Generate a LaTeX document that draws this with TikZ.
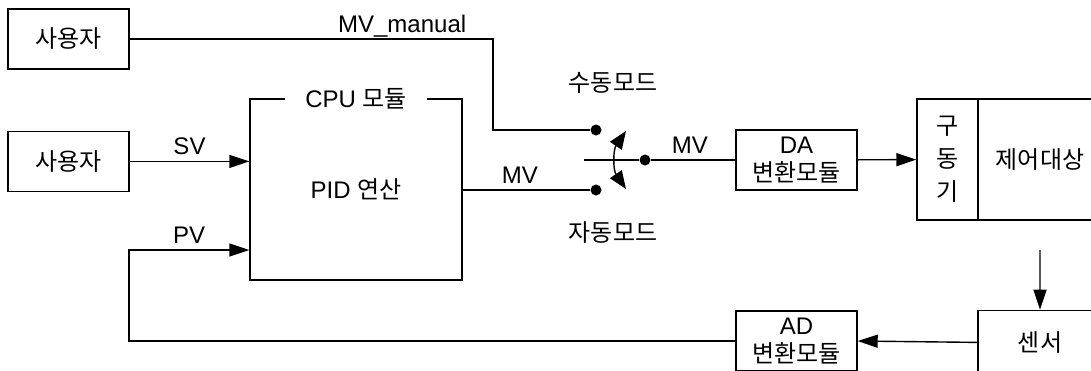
\documentclass[tikz,border=0pt]{standalone}
\usepackage{fontspec}
\setmainfont{Liberation Sans}
\newfontfamily\korfont{Noto Sans CJK KR}
\newcommand{\hangul}[1]{{\korfont #1}}
\usetikzlibrary{arrows.meta,positioning}

\begin{document}
\begin{tikzpicture}[
  x=0.5pt, y=-0.5pt,
  font=\fontsize{12}{14}\selectfont,
  line width=0.7pt,
  blk/.style={draw, align=center, inner sep=2pt},
  kor/.style={font=\fontsize{12}{16.5}\selectfont\korfont},
  arr/.style={-{Triangle[length=10pt, width=6.5pt]}},
  lbl/.style={above, inner sep=3pt, text depth=0pt},
  dot/.style={circle, fill, inner sep=0pt, minimum size=5.5pt},
]
\useasboundingbox (0,0) rectangle (1091,370);
% left side
\node[blk, kor, minimum width=60.5pt, minimum height=30pt] (user1) at (68.5,39) {사용자};
\node[blk, kor, minimum width=60.5pt, minimum height=30pt, below=30.5pt of user1] (user2) {사용자};
\node[blk, minimum width=106pt, minimum height=90.5pt] (cpu) at (356,189.5) {PID \hangul{연산}};
\node[fill=white, inner xsep=10pt, inner ysep=2pt] (cpulbl) at (cpu.north) {CPU \hangul{모듈}};
% switch
\node[dot] (dman) at (596,130) {};
\node[dot] (dauto) at (596,190) {};
\node[dot] (dout) at (645,160) {};
\coordinate (swin) at (584,160);
\coordinate (swtop) at (626,131);
\coordinate (swbot) at (626,189);
\node[kor] (manlbl) at (613,83) {수동모드};
\node[kor] (autolbl) at (613,233) {자동모드};
% right side
\node[blk, minimum width=60.5pt, minimum height=30pt] (da) at (796.5,160) {DA\\\hangul{변환모듈}};
\node[blk, kor, minimum width=30.5pt, minimum height=60.5pt] (drv) at (947.5,159.5) {구\\동\\기};
\node[blk, kor, minimum width=62pt, minimum height=60.5pt, right=-0.7pt of drv] (plant) {제어대상};
\node[blk, kor, minimum width=62pt, minimum height=32pt, below=44.5pt of plant] (sensor) {센서};
\node[blk, minimum width=60.5pt, minimum height=30pt] (ad) at (796.5,341) {AD\\\hangul{변환모듈}};
\coordinate (mbend) at (493,130);
\coordinate (fbend) at (129,250);
\coordinate (pout) at (1040,250);

\draw (user1.east) -| node[lbl, pos=0.375] {MV\_manual} (mbend) -- (dman);
\draw[arr] (user2) -- node[lbl] {SV} (cpu.west |- user2);
\draw[arr] (ad.west) -| (fbend) -- node[lbl] {PV} (fbend -| cpu.west);
\draw (cpu.east |- dauto) -- node[lbl, pos=0.45] {MV} (dauto);
\draw (swin) -- (dout) -- node[lbl, pos=0.46] {MV} (da.west);
\draw[{Triangle[length=9pt, width=7pt]}-{Triangle[length=9pt, width=7pt]}] (swtop) .. controls (613,150) and (613,170) .. (swbot);
\draw[arr] (da) -- (drv);
\draw[arr] (pout) -- (sensor.north);
\draw[arr] (sensor.west) -- (ad.east);
\end{tikzpicture}
\end{document}
